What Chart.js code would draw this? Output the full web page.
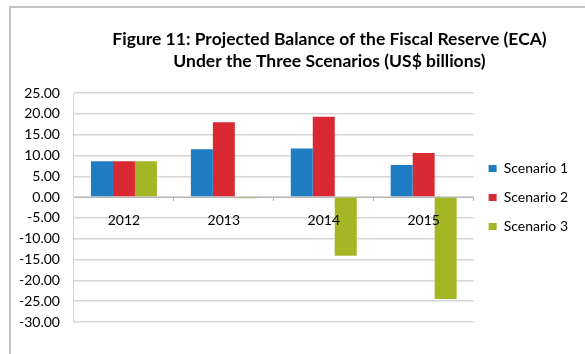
<!DOCTYPE html>
<html>
<head>
<meta charset="utf-8">
<script src="https://cdn.jsdelivr.net/npm/chart.js@4.4.1/dist/chart.umd.min.js"></script>
<style>
  html, body { margin: 0; padding: 0; background: #fff; }
  .wrap { position: relative; width: 585px; height: 354px; overflow: hidden; }
  .frame {
    position: absolute; left: 9px; top: 6px; width: 620px; height: 400px;
    border-top: 2px solid #c4c4c4; border-left: 2px solid #c4c4c4;
    pointer-events: none;
  }
  canvas { position: absolute; left: 0; top: 0; }
</style>
</head>
<body>
<div class="wrap">
  <canvas id="reserveChart" width="585" height="354"></canvas>
  <div class="frame"></div>
</div>
<script>
const years = ["2012", "2013", "2014", "2015"];
const scenario1 = [8.6, 11.5, 11.7, 7.7];
const scenario2 = [8.6, 18.0, 19.3, 10.6];
const scenario3 = [8.6, -0.3, -14.1, -24.5];
const titleLines = [
  "Figure 11: Projected Balance of the Fiscal Reserve (ECA)",
  "Under the Three Scenarios (US$ billions)"
];

const FONT = "Lato, 'Open Sans', sans-serif";

// two-line heading centred over the plot + legend block
const headingPlugin = {
  id: "heading",
  afterDraw(chart) {
    const ctx = chart.ctx;
    const cx = (chart.chartArea.left + chart.width) / 2;
    ctx.save();
    ctx.fillStyle = "#000";
    ctx.font = "bold 17.5px " + FONT;
    ctx.textAlign = "center";
    ctx.textBaseline = "middle";
    ctx.fillText(titleLines[0], cx, 39);
    ctx.fillText(titleLines[1], cx, 61);
    ctx.restore();
  }
};

// nudge the legend column up a bit from the plot's vertical centre
const legendLift = {
  id: "legendLift",
  afterLayout(chart) {
    const lg = chart.legend;
    if (!lg) return;
    lg.top -= 10;
    lg.bottom -= 10;
  }
};

new Chart(document.getElementById("reserveChart"), {
  type: "bar",
  data: {
    labels: years,
    datasets: [
      { label: "Scenario 1", data: scenario1, backgroundColor: "#1f7cc2" },
      { label: "Scenario 2", data: scenario2, backgroundColor: "#d92a33" },
      { label: "Scenario 3", data: scenario3, backgroundColor: "#a4b624" }
    ]
  },
  options: {
    responsive: false,
    animation: false,
    layout: { padding: { top: 93, left: 5, right: 7, bottom: 32 } },
    datasets: {
      bar: { categoryPercentage: 0.66, barPercentage: 1.0 }
    },
    scales: {
      x: {
        position: { y: 0 },
        grid: { drawOnChartArea: false, tickLength: 3, color: "#b8b8b8" },
        border: { color: "#b8b8b8" },
        ticks: { z: 1, color: "#000", padding: 12, font: { family: FONT, size: 14 } }
      },
      y: {
        min: -30,
        max: 25,
        grid: { color: "#d6d6d6", lineWidth: 1.5, drawTicks: false },
        border: { color: "#d6d6d6" },
        ticks: {
          stepSize: 5,
          padding: 14,
          color: "#000",
          font: { family: FONT, size: 14 },
          callback: (v) => Number(v).toFixed(2)
        }
      }
    },
    plugins: {
      legend: {
        position: "right",
        labels: {
          boxWidth: 8,
          boxHeight: 7,
          padding: 15,
          color: "#000",
          font: { family: FONT, size: 14 }
        }
      },
      tooltip: { enabled: false }
    }
  },
  plugins: [headingPlugin, legendLift]
});
</script>
</body>
</html>
